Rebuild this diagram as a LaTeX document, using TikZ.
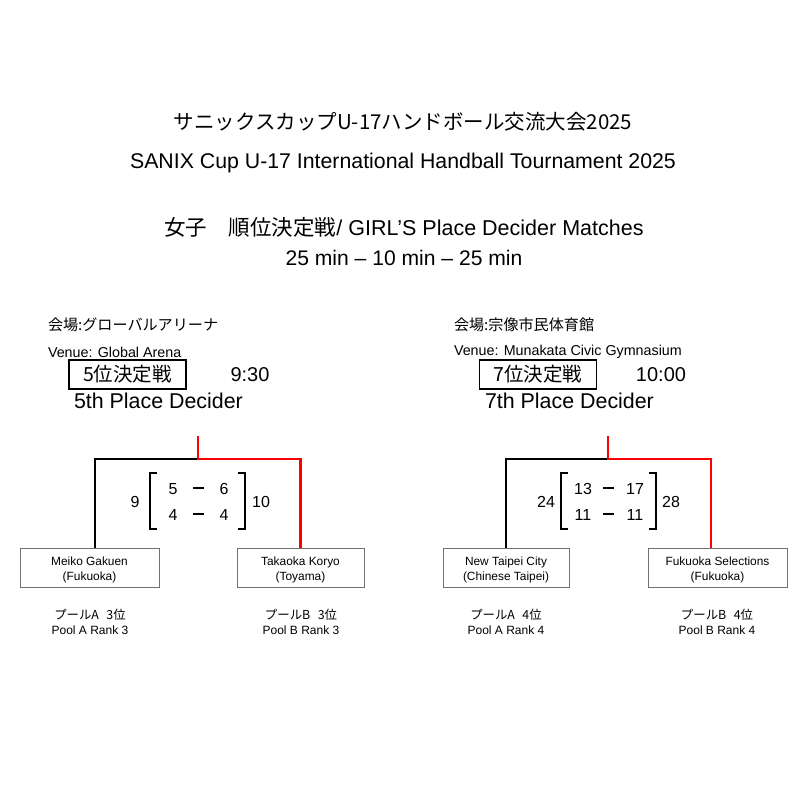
\documentclass[tikz,border=0pt]{standalone}
\usepackage{fontspec}
\setmainfont{Liberation Sans}
\newfontfamily\jp{Noto Sans CJK JP}
\begin{document}
\begin{tikzpicture}[x=1pt,y=-1pt,
  txt/.style={inner sep=0pt, outer sep=0pt},
  fs/.style={font=\fontsize{#1}{#1}\selectfont},
  team/.style={draw=black!55, line width=0.8pt, minimum height=39pt, inner sep=0pt},
  teamtxt/.style={txt, align=center, font=\fontsize{11.9}{15}\selectfont},
  placebox/.style={draw=black, line width=1.2pt, minimum width=117pt, minimum height=29pt, inner sep=0pt, font=\jp\fontsize{19.5}{19.5}\selectfont},
  win/.style={red, line width=2.8pt},
  lose/.style={black, line width=1.2pt},
  brk/.style={black, line width=1.3pt},
  score/.style={txt, font=\fontsize{16}{16}\selectfont},
  scoredash/.style={fill=black, minimum width=11pt, minimum height=1.3pt, inner sep=0pt},
  pool/.style={txt, align=center, font=\fontsize{12}{15}\selectfont},
  pooljp/.style={font=\jp\fontsize{12.4}{15}\selectfont}
]
\useasboundingbox (0,0) rectangle (800,800);
\fill[white] (0,0) rectangle (800,800);

% titles
\node[txt, fs=20.5] (t1) at (403,122) {\jp サニックスカップU-17ハンドボール交流大会2025};
\node[txt, fs=21.3] (t2) at (403,163) {SANIX Cup U-17 International Handball Tournament 2025};
\node[txt, fs=21.5] (t3) at (404,227) {{\jp 女子　順位決定戦}/ GIRL'S Place Decider Matches};
\node[txt, fs=21.1] (t4) at (404,258) {25 min – 10 min – 25 min};

% ===== left =====
\node[txt, anchor=west, font=\jp\fontsize{15.1}{15.1}\selectfont] (v1j) at (48,325) {会場:グローバルアリーナ};
\node[txt, anchor=west, fs=14.3] (v1e) at (48,352) {Venue: Global Arena};
\node[placebox] (p1) at (127.5,374.5) {5位決定戦};
\node[txt, fs=20] (tm1) at (250,375) {9:30};
\node[txt, anchor=west, fs=21.4] (pd1) at (74,401) {5th Place Decider};

\node[team, minimum width=139pt] (a1) at (89.5,567.5) {};
\node[teamtxt] (a1t) at ([yshift=-2pt]a1.center) {Meiko Gakuen\\(Fukuoka)};
\node[team, minimum width=127pt] (b1) at (300.5,567.5) {};
\node[teamtxt] (b1t) at ([yshift=-2pt]b1.center) {Takaoka Koryo\\(Toyama)};
\coordinate (top1) at (198,436);
\coordinate (j1) at (198,459);
\draw[lose] (j1) -| ([xshift=5.5pt]a1.north);
\draw[win] (top1) -- (j1) -| (b1.north);

\draw[brk] (157,473) -- (150,473) -- (150,529) -- (157,529);
\draw[brk] (238,473) -- (245,473) -- (245,529) -- (238,529);
\node[score] (s1a) at (173,489) {5};
\node[scoredash] (s1b) at (198,488) {};
\node[score] (s1c) at (224,489) {6};
\node[score] (s1d) at (173,515) {4};
\node[scoredash] (s1e) at (198,514) {};
\node[score] (s1f) at (224,515) {4};
\node[score] (h1a) at (135,502) {9};
\node[score] (h1b) at (261,502) {10};

\node[pool] (q1a) at (90,621.5) {{\jp\fontsize{12.4}{15}\selectfont プールA\hspace{0.6em}3位}\\Pool A Rank 3};
\node[pool] (q1b) at (301,621.5) {{\jp\fontsize{12.4}{15}\selectfont プールB\hspace{0.6em}3位}\\Pool B Rank 3};

% ===== right =====
\node[txt, anchor=west, font=\jp\fontsize{15.1}{15.1}\selectfont] (v2j) at (454,325) {会場:宗像市民体育館};
\node[txt, anchor=west, fs=14.3] (v2e) at (454,352) {Venue: Munakata Civic Gymnasium};
\node[placebox] (p2) at (538,374.5) {7位決定戦};
\node[txt, fs=20] (tm2) at (661,375) {10:00};
\node[txt, anchor=west, fs=21.4] (pd2) at (485,401) {7th Place Decider};

\node[team, minimum width=126pt] (a2) at (506,567.5) {};
\node[teamtxt] (a2t) at ([yshift=-2pt]a2.center) {New Taipei City\\(Chinese Taipei)};
\node[team, minimum width=139pt] (b2) at (717.5,567.5) {};
\node[teamtxt] (b2t) at ([yshift=-2pt]b2.center) {Fukuoka Selections\\(Fukuoka)};
\coordinate (top2) at (608,436);
\coordinate (j2) at (608,459);
\draw[lose] (j2) -| (a2.north);
\draw[win] (top2) -- (j2) -| ([xshift=-6.5pt]b2.north);

\draw[brk] (568,473) -- (561,473) -- (561,529) -- (568,529);
\draw[brk] (649,473) -- (656,473) -- (656,529) -- (649,529);
\node[score] (s2a) at (583,489) {13};
\node[scoredash] (s2b) at (608,488) {};
\node[score] (s2c) at (635,489) {17};
\node[score] (s2d) at (583,515) {11};
\node[scoredash] (s2e) at (608,514) {};
\node[score] (s2f) at (635,515) {11};
\node[score] (h2a) at (546,502) {24};
\node[score] (h2b) at (671,502) {28};

\node[pool] (q2a) at (506,621.5) {{\jp\fontsize{12.4}{15}\selectfont プールA\hspace{0.6em}4位}\\Pool A Rank 4};
\node[pool] (q2b) at (717,621.5) {{\jp\fontsize{12.4}{15}\selectfont プールB\hspace{0.6em}4位}\\Pool B Rank 4};
\end{tikzpicture}
\end{document}
